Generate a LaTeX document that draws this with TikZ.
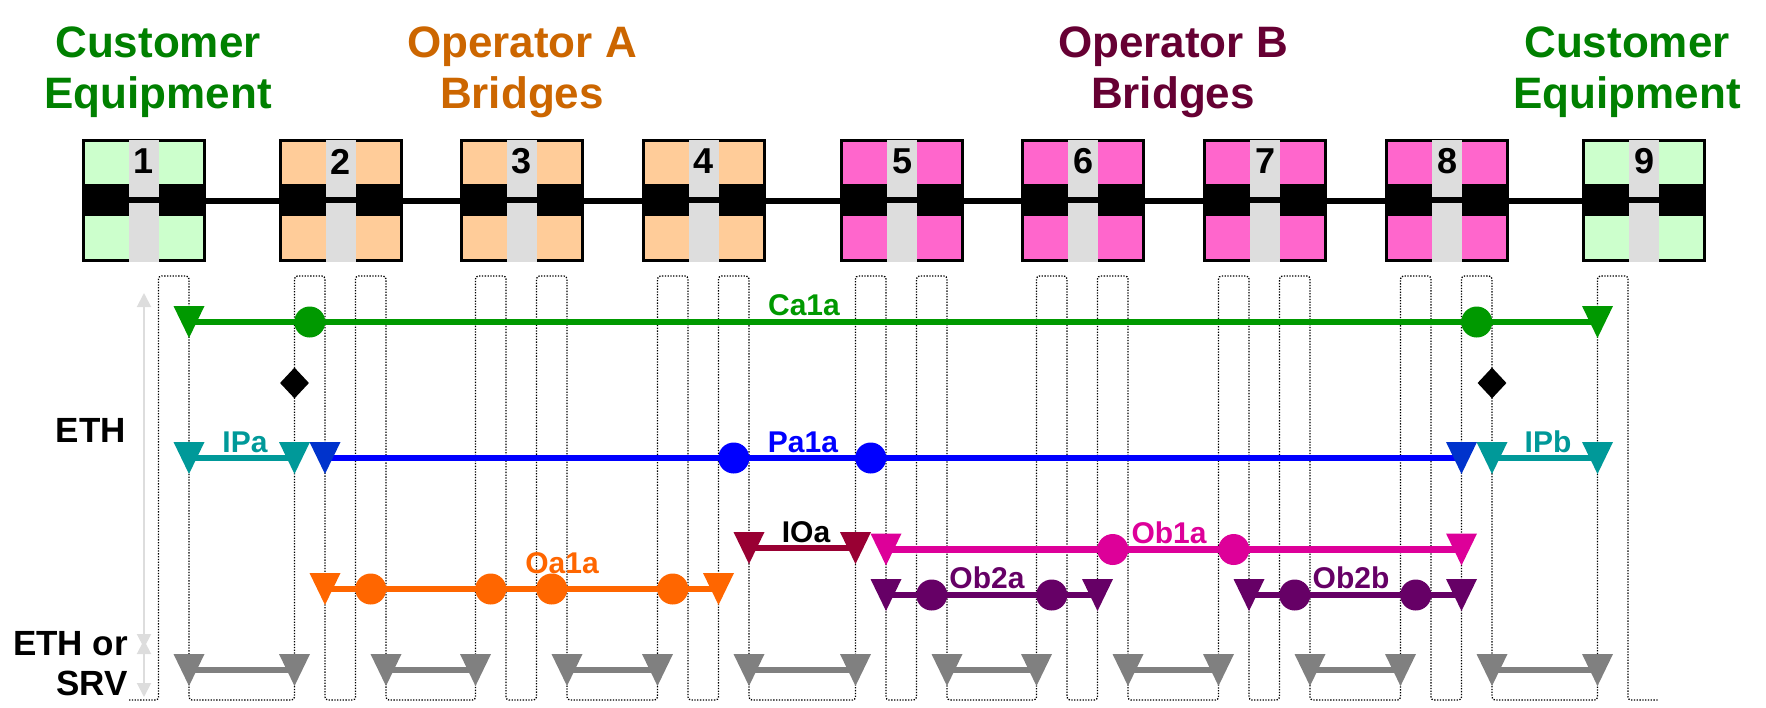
\documentclass[tikz,border=0pt]{standalone}
\usepackage{fontspec}
\setmainfont{Liberation Sans}
\usetikzlibrary{shapes.geometric,arrows.meta}

\definecolor{custgreen}{HTML}{008000}
\definecolor{opaorange}{HTML}{CC6600}
\definecolor{opbmaroon}{HTML}{660033}
\definecolor{custfill}{HTML}{CCFFCC}
\definecolor{opafill}{HTML}{FFCC99}
\definecolor{opbfill}{HTML}{FF66CC}
\definecolor{strip}{HTML}{DDDDDD}
\definecolor{cagreen}{HTML}{009900}
\definecolor{ipteal}{HTML}{009999}
\definecolor{pablue}{HTML}{0000FF}
\definecolor{pamep}{HTML}{0033CC}
\definecolor{oaorange}{HTML}{FF6600}
\definecolor{ioared}{HTML}{990033}
\definecolor{obpink}{HTML}{DD0099}
\definecolor{obpurple}{HTML}{660066}
\definecolor{srvgray}{HTML}{808080}
\definecolor{levelgray}{HTML}{DDDDDD}

\pgfdeclarelayer{grid}
\pgfdeclarelayer{flows}
\pgfsetlayers{grid,flows,main}

\tikzset{
  grouptitle/.style={font=\fontsize{44}{51}\selectfont\bfseries, align=center, inner sep=0pt},
  layername/.style={font=\fontsize{35}{40}\selectfont\bfseries, inner sep=0pt},
  lbl/.style={font=\fontsize{30}{36}\selectfont\bfseries, inner sep=0pt, anchor=base},
  digit/.style={font=\fontsize{36}{36}\selectfont\bfseries, inner sep=0pt},
  bridge/.style={draw=black, line width=3.5pt, minimum width=121pt, minimum height=120pt, inner sep=0pt},
  link/.style={line width=6pt},
  meander/.style={line width=1.3pt, dash pattern=on 1.3pt off 1.5pt, rounded corners=3pt},
  flow/.style={line width=6.5pt, draw=#1},
  mep/.style={rectangle, minimum width=31pt, minimum height=32pt, inner sep=0pt, outer sep=0pt,
    path picture={\fill[#1] (path picture bounding box.north west) -- (path picture bounding box.north east)
      -- (path picture bounding box.south) -- cycle;}},
  mip/.style={circle, minimum size=31pt, inner sep=0pt, fill=#1},
  cut/.style={diamond, fill=black, inner sep=0pt, minimum width=29pt, minimum height=31pt},
  levelarrow/.style={draw=levelgray, line width=2pt, {Triangle[width=14pt,length=14pt]}-{Triangle[width=14pt,length=14pt]}},
}

\begin{document}
\begin{tikzpicture}[x=1pt, y=-1pt]
\useasboundingbox (0,0) rectangle (1766,707);

% group titles
\node[grouptitle, text=custgreen] (custL) at (158,72) {Customer\\Equipment};
\node[grouptitle, text=opaorange] (opA) at (522,72) {Operator A\\Bridges};
\node[grouptitle, text=opbmaroon] (opB) at (1173,72) {Operator B\\Bridges};
\node[grouptitle, text=custgreen] (custR) at (1627,72) {Customer\\Equipment};

% bridges and their port columns
\foreach \n/\l/\c in {1/82/custfill, 2/279/opafill, 3/460/opafill, 4/642/opafill,
    5/840/opbfill, 6/1021/opbfill, 7/1203/opbfill, 8/1385/opbfill, 9/1582/custfill} {
  \node[bridge, fill=\c] (b\n) at (\l+62,200.5) {};
  \fill (\l,184) rectangle (\l+124,216);
  \fill[strip] (\l+47,139.5) rectangle (\l+77,197);
  \fill[strip] (\l+47,203) rectangle (\l+77,261.5);
  \node[digit] (n\n) at (\l+62,161.5) {\n};
  \coordinate (pa\n) at (\l+15.5,276);
  \coordinate (pb\n) at (\l+46,276);
  \coordinate (pc\n) at (\l+76.5,276);
  \coordinate (pd\n) at (\l+107,276);
  \coordinate (ml\n) at (\l+30.75,276);
  \coordinate (mr\n) at (\l+91.75,276);
  \coordinate (sl\n) at (\l+47,700);
  \coordinate (sr\n) at (\l+77,700);
}
\foreach \a/\b in {1/2,2/3,3/4,4/5,5/6,6/7,7/8,8/9}
  \draw[link] (b\a) -- (b\b);

% rows
\coordinate (rCa) at (0,322);
\coordinate (rCut) at (0,383);
\coordinate (rP) at (0,458);
\coordinate (rIO) at (0,548);
\coordinate (rOb1) at (0,549.5);
\coordinate (rOa) at (0,589);
\coordinate (rOb2) at (0,595);
\coordinate (rSrv) at (0,670);
\coordinate (bot) at (0,700);

% dotted port columns
\begin{pgfonlayer}{grid}
\draw[meander] (sl1)
  \foreach \p/\q in {pc1/pd1, pa2/pb2, pc2/pd2, pa3/pb3, pc3/pd3, pa4/pb4, pc4/pd4,
      pa5/pb5, pc5/pd5, pa6/pb6, pc6/pd6, pa7/pb7, pc7/pd7, pa8/pb8, pc8/pd8, pa9/pb9}
    { -- (\p |- bot) -- (\p) -- (\q) -- (\q |- bot) } -- (sr9);
\end{pgfonlayer}

% layer arrows
\coordinate (ethT) at (144,293);
\coordinate (ethB) at (144,648);
\coordinate (srvT) at (144,640);
\coordinate (srvB) at (144,697);
\draw[levelarrow] (ethT) -- (ethB);
\draw[levelarrow] (srvT) -- (srvB);
\node[layername, anchor=base east] (eth) at (126,442) {ETH};
\node[layername, align=right, anchor=north east] (ethsrv) at (128,631) {ETH or\\SRV};

% Ca1a
\node[mep=cagreen] (caL) at (pd1 |- rCa) {};
\node[mep=cagreen] (caR) at (pa9 |- rCa) {};
\node[mip=cagreen] (caM1) at (ml2 |- rCa) {};
\node[mip=cagreen] (caM2) at (mr8 |- rCa) {};
\node[lbl, text=cagreen] (lCa) at (804,315) {Ca1a};

% demarcation
\node[cut] (cutL) at (pa2 |- rCut) {};
\node[cut] (cutR) at (pd8 |- rCut) {};

% IPa, Pa1a, IPb
\node[mep=ipteal] (ipaL) at (pd1 |- rP) {};
\node[mep=ipteal] (ipaR) at (pa2 |- rP) {};
\node[lbl, text=ipteal] (lIPa) at (245,452) {IPa};
\node[mep=pamep] (paL) at (pb2 |- rP) {};
\node[mep=pamep] (paR) at (pc8 |- rP) {};
\node[mip=pablue] (paM1) at (mr4 |- rP) {};
\node[mip=pablue] (paM2) at (ml5 |- rP) {};
\node[lbl, text=pablue] (lPa) at (803,452) {Pa1a};
\node[mep=ipteal] (ipbL) at (pd8 |- rP) {};
\node[mep=ipteal] (ipbR) at (pa9 |- rP) {};
\node[lbl, text=ipteal] (lIPb) at (1548,452) {IPb};

% Oa1a
\node[mep=oaorange] (oaL) at (pb2 |- rOa) {};
\node[mep=oaorange] (oaR) at (pc4 |- rOa) {};
\node[mip=oaorange] (oaM1) at (mr2 |- rOa) {};
\node[mip=oaorange] (oaM2) at (ml3 |- rOa) {};
\node[mip=oaorange] (oaM3) at (mr3 |- rOa) {};
\node[mip=oaorange] (oaM4) at (ml4 |- rOa) {};
\node[lbl, text=oaorange] (lOa) at (562,573) {Oa1a};

% IOa
\node[mep=ioared] (ioL) at (pd4 |- rIO) {};
\node[mep=ioared] (ioR) at (pa5 |- rIO) {};
\node[lbl] (lIO) at (806,542) {IOa};

% Ob1a
\node[mep=obpink] (ob1L) at (pb5 |- rOb1) {};
\node[mep=obpink] (ob1R) at (pc8 |- rOb1) {};
\node[mip=obpink] (ob1M1) at (mr6 |- rOb1) {};
\node[mip=obpink] (ob1M2) at (ml7 |- rOb1) {};
\node[lbl, text=obpink] (lOb1) at (1169,543) {Ob1a};

% Ob2a, Ob2b
\node[mep=obpurple] (ob2aL) at (pb5 |- rOb2) {};
\node[mep=obpurple] (ob2aR) at (pc6 |- rOb2) {};
\node[mip=obpurple] (ob2aM1) at (mr5 |- rOb2) {};
\node[mip=obpurple] (ob2aM2) at (ml6 |- rOb2) {};
\node[lbl, text=obpurple] (lOb2a) at (987,588) {Ob2a};
\node[mep=obpurple] (ob2bL) at (pb7 |- rOb2) {};
\node[mep=obpurple] (ob2bR) at (pc8 |- rOb2) {};
\node[mip=obpurple] (ob2bM1) at (mr7 |- rOb2) {};
\node[mip=obpurple] (ob2bM2) at (ml8 |- rOb2) {};
\node[lbl, text=obpurple] (lOb2b) at (1351,588) {Ob2b};

% server layer links
\foreach \a/\b in {1/2,2/3,3/4,4/5,5/6,6/7,7/8,8/9} {
  \node[mep=srvgray] (svL\a) at (pd\a |- rSrv) {};
  \node[mep=srvgray] (svR\a) at (pa\b |- rSrv) {};
}

% connectors behind the markers
\begin{pgfonlayer}{flows}
\draw[flow=cagreen] (caL.center) -- (caR.center);
\draw[flow=ipteal] (ipaL.center) -- (ipaR.center);
\draw[flow=pablue] (paL.center) -- (paR.center);
\draw[flow=ipteal] (ipbL.center) -- (ipbR.center);
\draw[flow=oaorange] (oaL.center) -- (oaR.center);
\draw[flow=ioared] (ioL.center) -- (ioR.center);
\draw[flow=obpink] (ob1L.center) -- (ob1R.center);
\draw[flow=obpurple] (ob2aL.center) -- (ob2aR.center);
\draw[flow=obpurple] (ob2bL.center) -- (ob2bR.center);
\foreach \a in {1,...,8}
  \draw[flow=srvgray] (svL\a.center) -- (svR\a.center);
\end{pgfonlayer}
\end{tikzpicture}
\end{document}
